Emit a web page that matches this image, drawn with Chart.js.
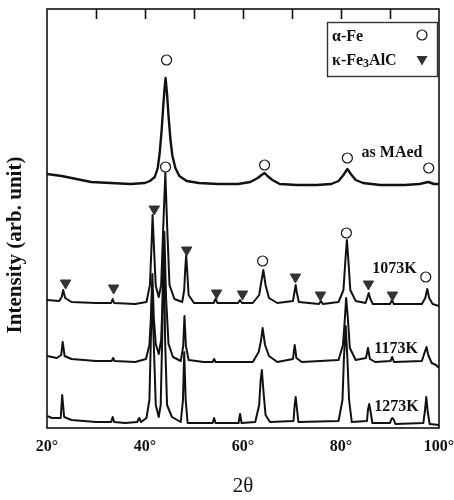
<!DOCTYPE html>
<html><head><meta charset="utf-8">
<script src="https://cdn.jsdelivr.net/npm/chart.js@4.4.0/dist/chart.umd.min.js"></script>
<style>html,body{margin:0;padding:0;background:#fff}</style>
</head><body>
<canvas id="c" width="454" height="500"></canvas>
<script>
// 2θ (deg), intensity (arb. unit, stacked offsets included)
const asMAed = [[20,254],[23,252],[26,249],[29,246],[33,245],[37,244],[40,245],[41,247],[42,251],[42.6,260],[43.0,275],[43.4,298],[43.7,320],[44.0,340],[44.2,350],[44.5,334],[44.8,312],[45.2,288],[45.6,272],[46.2,260],[47,252],[48.5,247],[51,245],[55,244],[59,244],[61.5,246],[63,250],[63.8,253],[64.4,255],[65,252],[66,248],[67.5,244],[71,243],[75,243],[78,244],[79.5,247],[80.5,253],[81.3,259],[82,254],[83,248],[84.5,245],[88,243],[93,243],[96,244],[97.8,246],[99,244],[100,244]];
const k1073 = [[20,128],[22.5,127],[23.0,131],[23.3,138],[23.7,130],[25,126],[30,125],[33.1,125],[33.4,129],[33.7,125],[38,124],[40.3,126],[41.0,143],[41.3,178],[41.55,213],[41.85,178],[42.2,142],[42.8,131],[43.3,143],[43.7,198],[44.15,255],[44.55,198],[45.0,143],[46,129],[47.6,126],[48.0,138],[48.2,158],[48.4,173],[48.6,158],[48.9,133],[50,125],[54.0,125],[54.4,129],[54.8,125],[59.0,125],[59.4,128],[59.8,125],[62,125],[63.3,133],[63.8,148],[64.15,158],[64.6,143],[65.3,130],[67,125],[70.2,127],[70.5,136],[70.75,143],[71.0,135],[71.4,126],[75.5,124],[75.9,127],[76.3,124],[79.5,126],[80.5,138],[80.9,168],[81.2,188],[81.5,168],[81.9,138],[83,127],[85.0,125],[85.35,130],[85.65,135],[86.0,129],[86.5,124],[90.0,124],[90.4,128],[90.8,124],[96.5,124],[97.2,130],[97.6,139],[98.0,130],[98.7,124],[100,122]];
const k1173 = [[20,72],[22,70],[22.9,73],[23.2,86],[23.6,72],[25,69],[30,67],[33.2,67],[33.5,70],[33.8,67],[38,66],[40.2,69],[40.9,83],[41.2,110],[41.5,154],[41.8,110],[42.2,84],[42.8,74],[43.3,88],[43.6,130],[43.95,196],[44.3,130],[44.8,84],[45.7,71],[47.3,67],[47.8,82],[48.05,112],[48.35,82],[48.9,68],[52,66],[53.8,66],[54.1,69],[54.4,66],[62,66],[63.2,76],[63.7,88],[64.0,100],[64.5,83],[65.3,72],[67,66],[70.2,69],[70.55,83],[70.9,70],[72,66],[79.5,68],[80.4,83],[80.8,110],[81.05,130],[81.4,110],[81.8,80],[83,68],[85.1,70],[85.5,80],[85.9,69],[87,66],[90.1,67],[90.45,71],[90.8,66],[96.5,67],[97.1,76],[97.45,81],[97.8,73],[98.5,65],[99.4,63],[100,60]];
const k1273 = [[20,12],[21,10],[22.8,10],[23.1,33],[23.5,11],[25,8],[30,6],[33.1,6],[33.4,11],[33.7,6],[36,5],[38.4,6],[38.8,10],[39.2,6],[40.3,10],[40.9,28],[41.2,90],[41.45,136],[41.75,90],[42.2,23],[42.8,11],[43.2,23],[43.5,88],[43.8,196],[44.1,88],[44.5,23],[45.5,11],[47.3,6],[47.75,28],[48.0,76],[48.3,28],[48.7,5],[53.8,5],[54.1,10],[54.4,5],[59.1,5],[59.4,14],[59.7,5],[62.5,6],[63.3,23],[63.6,48],[63.85,58],[64.15,38],[64.6,13],[65.5,6],[70.3,7],[70.55,23],[70.75,31],[71.0,20],[71.3,6],[79.5,7],[80.3,28],[80.6,70],[80.95,102],[81.3,70],[81.65,28],[82.2,6],[85.3,7],[85.5,18],[85.75,24],[86.05,16],[86.4,5],[90.0,5],[90.3,9],[90.5,10],[90.8,8],[91.1,4],[96.8,5],[97.15,18],[97.4,31],[97.7,16],[98.1,4],[100,3]];
// phase markers
const alphaFeMarks = [[44.4,368],[64.4,263],[81.3,270],[97.9,260],[44.2,261],[64.0,167],[81.1,195],[97.3,151]];
const kappaMarks = [[23.8,145],[33.6,140],[41.9,219],[48.5,178],[54.6,135],[59.9,134],[70.7,151],[75.8,133],[85.6,144],[90.5,133]];
const xTickLabels = [20,40,60,80,100];
const minorTicks = [30,40,50,60,70,80,90];
const traceLabels = ['as MAed','1073K','1173K','1273K'];
const legendLabels = ['α-Fe','κ-Fe','3','AlC'];

const SERIF = '"Liberation Serif", "DejaVu Serif", serif';
const INK = '#111';

function lineDs(d,w){return {data:d, borderColor:INK, borderWidth:w, pointRadius:0, tension:0, fill:false, order:2};}

const deco = {
  id:'deco',
  afterDraw(chart){
    const {ctx, chartArea:a, scales:{x,y}} = chart;
    ctx.save();
    ctx.strokeStyle = INK; ctx.lineWidth = 1.6;
    ctx.strokeRect(a.left, a.top, a.right-a.left, a.bottom-a.top);
    // top inward ticks
    ctx.beginPath();
    minorTicks.forEach(v=>{const px=Math.round(x.getPixelForValue(v))+0.5; ctx.moveTo(px,a.top); ctx.lineTo(px,a.top+10);});
    ctx.stroke();
    // trace labels
    ctx.fillStyle = INK; ctx.font = 'bold 16px '+SERIF; ctx.textBaseline='middle'; ctx.textAlign='left';
    const pos = [[84.2,275],[86.4,159],[86.8,79],[86.8,21]];
    traceLabels.forEach((t,i)=>ctx.fillText(t, x.getPixelForValue(pos[i][0]), y.getPixelForValue(pos[i][1])));
    // legend box
    const bx=327, by=22, bw=110, bh=54;
    ctx.fillStyle='#fff'; ctx.fillRect(bx,by,bw,bh);
    ctx.lineWidth=1.4; ctx.strokeStyle='#333'; ctx.strokeRect(bx+0.5,by+0.5,bw,bh);
    ctx.fillStyle=INK; ctx.font='bold 16px '+SERIF;
    ctx.fillText(legendLabels[0], 332, 37);
    let tx = 332;
    ctx.fillText(legendLabels[1], tx, 61); tx += ctx.measureText(legendLabels[1]).width;
    ctx.font='bold 12px '+SERIF; ctx.fillText(legendLabels[2], tx, 64); tx += ctx.measureText(legendLabels[2]).width;
    ctx.font='bold 16px '+SERIF; ctx.fillText(legendLabels[3], tx, 61);
    ctx.beginPath(); ctx.arc(422,35,5,0,Math.PI*2); ctx.lineWidth=1.2; ctx.strokeStyle=INK; ctx.stroke();
    ctx.beginPath(); ctx.moveTo(416.5,56); ctx.lineTo(427.5,56); ctx.lineTo(422,65.5); ctx.closePath(); ctx.fillStyle='#333'; ctx.fill();
    // y title
    ctx.translate(16,245); ctx.rotate(-Math.PI/2);
    ctx.fillStyle=INK; ctx.font='bold 21px '+SERIF; ctx.textAlign='center'; ctx.textBaseline='middle';
    ctx.fillText('Intensity (arb. unit)',0,0);
    ctx.restore();
  }
};

new Chart(document.getElementById('c'), {
  type:'line',
  data:{datasets:[
    {data:alphaFeMarks, showLine:false, pointStyle:'circle', pointRadius:5, pointBackgroundColor:'#fff', pointBorderColor:INK, pointBorderWidth:1.2, order:0},
    {data:kappaMarks, showLine:false, pointStyle:'triangle', rotation:180, pointRotation:180, pointRadius:6, pointBackgroundColor:'#333', pointBorderColor:'#333', pointBorderWidth:1, order:0},
    lineDs(asMAed,2.4), lineDs(k1073,2), lineDs(k1173,2), lineDs(k1273,2)
  ]},
  options:{
    responsive:false, animation:false, devicePixelRatio:1,
    layout:{padding:{left:47,right:15,top:9,bottom:0}},
    plugins:{legend:{display:false}, tooltip:{enabled:false}},
    elements:{line:{borderJoinStyle:'round'}},
    scales:{
      x:{type:'linear', min:20, max:100,
         afterBuildTicks:(s)=>{s.ticks = xTickLabels.map(v=>({value:v}));},
         ticks:{callback:v=>v+'°', font:{family:SERIF,size:16,weight:'bold'}, color:INK, padding:9, maxRotation:0, autoSkip:false},
         grid:{display:false, drawTicks:false}, border:{display:false},
         title:{display:true, text:'2θ', font:{family:SERIF,size:21}, color:INK, padding:{top:4,bottom:1}},
         afterFit:(s)=>{s.height=72; s.paddingRight=0; s.paddingLeft=0;}
      },
      y:{display:false, min:0, max:419}
    }
  },
  plugins:[deco]
});
</script>
</body></html>
